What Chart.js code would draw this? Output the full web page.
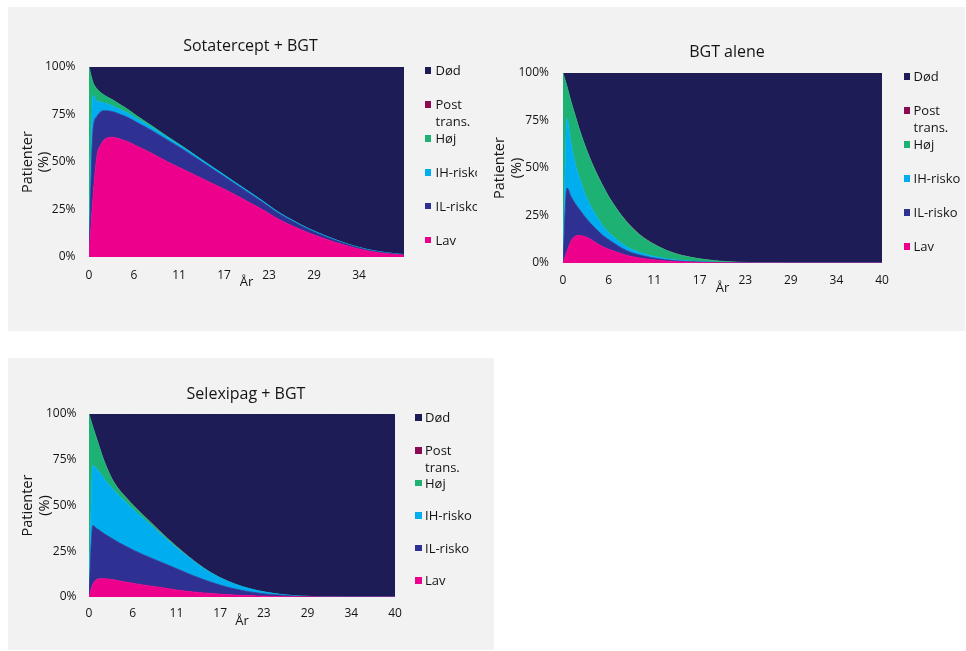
<!DOCTYPE html>
<html>
<head>
<meta charset="utf-8">
<script src="https://cdn.jsdelivr.net/npm/chart.js@4.4.1/dist/chart.umd.min.js"></script>
<style>
  body { margin: 0; width: 966px; height: 651px; position: relative; overflow: hidden; background: #ffffff;
         font-family: 'Open Sans', sans-serif; color: #141414; }
  .bg { position: absolute; background: #f2f2f2; }
  canvas { position: absolute; }
  .title { position: absolute; font-size: 16px; transform: translate(-50%, -50%); white-space: nowrap; }
  .legend { position: absolute; overflow: hidden; }
  .item { position: absolute; font-size: 13px; white-space: pre; }
  .sw { position: absolute; left: 0; width: 6.5px; height: 6.5px; }
</style>
</head>
<body>
<div class="bg" style="left:8px;top:7px;width:957px;height:324px"></div>
<div class="bg" style="left:8px;top:358px;width:486px;height:292px"></div>

<script>
// Model time points (years)
const years = [0, 0.5, 1, 1.5, 2, 3, 4, 5, 6, 8, 10, 12, 14, 16, 18, 20, 22, 24, 26, 28, 30, 32, 34, 36, 38, 40];

// Health states, bottom of the stack first
const stateNames = ['Lav', 'IL-risko', 'IH-risko', 'Høj', 'Post trans.', 'Død'];
const stateColors = ['#ec008c', '#2e3192', '#00aeef', '#1db274', '#8c0a52', '#1e1c56'];

// Year axis ticks
const yearTickValues = [0, 5.714, 11.429, 17.143, 22.857, 28.571, 34.286, 40];
const yearTickLabels = ['0', '6', '11', '17', '23', '29', '34', '40'];
const sotTickLabels = ['0', '6', '11', '17', '23', '29', '34', ''];

// Share of patients (%) per state: Sotatercept + BGT
const sotLav  = [0, 31, 53, 59, 62, 63, 62, 60.5, 58.5, 54.5, 50, 46, 42, 38, 34, 29.5, 25, 20, 16, 12.5, 9.5, 6.8, 4.5, 2.8, 1.7, 1];
const sotIL   = [0, 35, 21, 17.5, 15, 13.5, 13, 12.8, 12.5, 12, 11.5, 10.5, 9, 7.5, 6, 5, 4, 3.2, 2.5, 1.8, 1.3, 0.9, 0.6, 0.4, 0.3, 0.2];
const sotIH   = [0, 19, 8, 5, 4, 3, 2.5, 2.2, 2, 1.6, 1.3, 1.1, 1, 0.9, 0.8, 0.7, 0.6, 0.5, 0.45, 0.4, 0.35, 0.3, 0.25, 0.2, 0.15, 0.1];
const sotHoj  = [100, 7, 6.5, 5, 4, 3.2, 2.6, 2, 1.5, 0.9, 0.5, 0.25, 0.1, 0.05, 0, 0, 0, 0, 0, 0, 0, 0, 0, 0, 0, 0];
const sotPost = [0, 0, 0, 0, 0, 0, 0, 0, 0, 0, 0, 0, 0, 0, 0, 0, 0, 0, 0, 0, 0, 0, 0, 0, 0, 0];

// Share of patients (%) per state: BGT alene
const bgtLav  = [0, 6, 11.5, 14, 14.5, 13.5, 11, 8.5, 6.8, 4, 2.4, 1.4, 0.8, 0.45, 0.25, 0.12, 0.06, 0.03, 0.01, 0, 0, 0, 0, 0, 0, 0];
const bgtIL   = [0, 33.5, 23.5, 17.5, 14, 9.5, 7.5, 6, 4.7, 2.5, 1.4, 0.8, 0.4, 0.25, 0.12, 0.07, 0.03, 0.01, 0, 0, 0, 0, 0, 0, 0, 0];
const bgtIH   = [0, 36.5, 28, 21.5, 17, 11, 7.5, 5, 3.5, 2, 1.2, 0.8, 0.5, 0.3, 0.15, 0.1, 0.05, 0.02, 0, 0, 0, 0, 0, 0, 0, 0];
const bgtHoj  = [100, 17, 22, 25, 25.5, 25, 23, 21, 18, 13, 8.5, 5.5, 3.3, 2, 1.2, 0.6, 0.3, 0.15, 0.08, 0.03, 0, 0, 0, 0, 0, 0];
const bgtPost = [0, 0, 0.2, 0.3, 0.3, 0.3, 0.3, 0.3, 0.3, 0.3, 0.3, 0.25, 0.2, 0.15, 0.1, 0.08, 0.05, 0.03, 0.02, 0, 0, 0, 0, 0, 0, 0];

// Share of patients (%) per state: Selexipag + BGT
const selLav  = [0, 7, 9.5, 10, 10, 9.5, 8.8, 8, 7.3, 6, 4.8, 3.5, 2.6, 1.9, 1.3, 0.9, 0.6, 0.35, 0.2, 0.1, 0.05, 0, 0, 0, 0, 0];
const selIL   = [0, 32, 28, 26, 24.5, 22.5, 20.7, 19.3, 17.9, 15.5, 13.2, 11, 8.4, 6.1, 4.2, 2.7, 1.6, 0.95, 0.5, 0.2, 0.05, 0, 0, 0, 0, 0];
const selIH   = [0, 33, 32.5, 31.5, 30, 27.5, 25.5, 23.7, 21.8, 18, 14, 10.5, 7.5, 5, 3.3, 2.1, 1.3, 0.7, 0.3, 0.15, 0.05, 0.05, 0, 0, 0, 0];
const selHoj  = [100, 21, 16.5, 12.5, 9.5, 5, 3.2, 2.5, 2, 1.4, 0.9, 0.5, 0.25, 0.1, 0.05, 0, 0, 0, 0, 0, 0, 0, 0, 0, 0, 0];
const selPost = [0, 0, 0.2, 0.3, 0.3, 0.3, 0.3, 0.3, 0.3, 0.3, 0.3, 0.3, 0.25, 0.2, 0.15, 0.1, 0.06, 0.03, 0.01, 0, 0, 0, 0, 0, 0, 0];

const FONT = "'Open Sans', sans-serif";
const TEXT = '#141414';
const X_AXIS_H = 34;

const panels = [
  { title: 'Sotatercept + BGT', series: [sotLav, sotIL, sotIH, sotHoj, sotPost], tickLabels: sotTickLabels,
    canvas: { x: 8, y: 7, w: 469, h: 324 }, plot: { l: 89, t: 67, r: 404, b: 257 },
    titleAt: [250.5, 45], yTitleX: 27.5, yTickGap: 13.5, xTickCenter: 18.3, xTitleCenter: 25.7,
    legend: { sq: 424.5, tx: 435.5, y0: 70.7, dy: 33.86, clip: 477 } },
  { title: 'BGT alene', series: [bgtLav, bgtIL, bgtIH, bgtHoj, bgtPost], tickLabels: yearTickLabels,
    canvas: { x: 480, y: 7, w: 486, h: 324 }, plot: { l: 563, t: 73, r: 882, b: 263 },
    titleAt: [727, 51], yTitleX: 500, yTickGap: 14, xTickCenter: 18, xTitleCenter: 25.3,
    legend: { sq: 903.5, tx: 913.5, y0: 76.7, dy: 34, clip: 966 } },
  { title: 'Selexipag + BGT', series: [selLav, selIL, selIH, selHoj, selPost], tickLabels: yearTickLabels,
    canvas: { x: 8, y: 358, w: 486, h: 292 }, plot: { l: 89, t: 414, r: 395, b: 597 },
    titleAt: [246, 393], yTitleX: 28.3, yTickGap: 12.5, xTickCenter: 17, xTitleCenter: 24.7,
    legend: { sq: 415, tx: 425, y0: 417.7, dy: 32.6, clip: 494 } }
];

function buildDatasets(series) {
  // Død is whatever is not in one of the living states
  const dead = years.map((_, i) => 100 - series.reduce((s, arr) => s + arr[i], 0));
  const all = series.concat([dead]);
  return all.map((vals, k) => ({
    label: stateNames[k],
    data: years.map((t, i) => ({ x: t, y: Math.max(0, vals[i]) })),
    backgroundColor: stateColors[k],
    borderColor: stateColors[k],
    borderWidth: k === 4 ? 0 : 0.8,
    fill: k === 0 ? 'origin' : '-1',
    pointRadius: 0,
    cubicInterpolationMode: 'monotone'
  }));
}

panels.forEach(p => {
  const cv = p.canvas, pl = p.plot;
  const canvas = document.createElement('canvas');
  canvas.width = cv.w; canvas.height = cv.h;
  canvas.style.left = cv.x + 'px'; canvas.style.top = cv.y + 'px';
  canvas.style.width = cv.w + 'px'; canvas.style.height = cv.h + 'px';
  document.body.appendChild(canvas);

  const yTitleSize = 14.5, yTitleLH = 1.15;
  const yTitlePad = 14.5 - yTitleSize * yTitleLH / 2;
  const padLeft = p.yTitleX - 14.5 - cv.x;
  const yAxisW = pl.l - cv.x - padLeft;
  const tickFont = { family: FONT, size: 12, lineHeight: 1.2 };
  const xTickPad = p.xTickCenter - 12 * 1.2 / 2;
  const xTitlePadBottom = X_AXIS_H - 13 * 1.2 / 2 - p.xTitleCenter;

  new Chart(canvas, {
    type: 'line',
    data: { datasets: buildDatasets(p.series) },
    options: {
      responsive: false,
      animation: false,
      events: [],
      layout: {
        autoPadding: false,
        padding: { left: padLeft, top: pl.t - cv.y, right: cv.x + cv.w - pl.r, bottom: cv.y + cv.h - pl.b - X_AXIS_H }
      },
      plugins: { legend: { display: false }, tooltip: { enabled: false }, title: { display: false } },
      scales: {
        x: {
          type: 'linear', min: 0, max: 40,
          grid: { display: false, drawTicks: false }, border: { display: false },
          afterBuildTicks: s => { s.ticks = yearTickValues.map(v => ({ value: v })); },
          afterFit: s => { s.height = X_AXIS_H; },
          ticks: { autoSkip: false, maxRotation: 0, padding: xTickPad, font: tickFont, color: TEXT,
                   callback: (v, i) => p.tickLabels[i] },
          title: { display: true, text: 'År', color: TEXT, font: { family: FONT, size: 13, lineHeight: 1.2 },
                   padding: { top: 0, bottom: xTitlePadBottom } }
        },
        y: {
          stacked: true, min: 0, max: 100,
          grid: { display: false, drawTicks: false }, border: { display: false },
          afterFit: s => { s.width = yAxisW; },
          ticks: { stepSize: 25, padding: p.yTickGap, font: tickFont, color: TEXT, callback: v => v + '%' },
          title: { display: true, text: ['Patienter', '(%)'], color: TEXT,
                   font: { family: FONT, size: yTitleSize, lineHeight: yTitleLH }, padding: { top: yTitlePad, bottom: 0 } }
        }
      }
    }
  });

  // Chart title
  const t = document.createElement('div');
  t.className = 'title';
  t.textContent = p.title;
  t.style.left = p.titleAt[0] + 'px';
  t.style.top = p.titleAt[1] + 'px';
  document.body.appendChild(t);

  // Legend, top of the stack first
  const lg = p.legend;
  const box = document.createElement('div');
  box.className = 'legend';
  box.style.left = lg.sq + 'px';
  box.style.top = '0px';
  box.style.width = (lg.clip - lg.sq) + 'px';
  box.style.height = '651px';
  const lineH = 16.5;
  stateNames.slice().reverse().forEach((name, i) => {
    const k = stateNames.length - 1 - i;
    const item = document.createElement('div');
    item.className = 'item';
    item.style.top = (lg.y0 + i * lg.dy - lineH / 2) + 'px';
    item.style.left = '0px';
    item.style.lineHeight = lineH + 'px';
    const sw = document.createElement('span');
    sw.className = 'sw';
    sw.style.background = stateColors[k];
    sw.style.top = ((lineH - 6.5) / 2) + 'px';
    const tx = document.createElement('span');
    tx.style.position = 'absolute';
    tx.style.left = (lg.tx - lg.sq) + 'px';
    tx.style.top = '0px';
    tx.textContent = name.replace(' ', '\n');
    item.appendChild(sw);
    item.appendChild(tx);
    box.appendChild(item);
  });
  document.body.appendChild(box);
});
</script>
</body>
</html>
